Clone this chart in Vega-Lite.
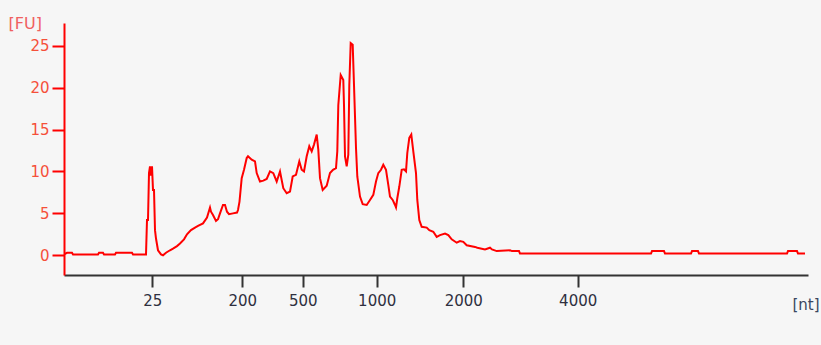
{
  "$schema": "https://vega.github.io/schema/vega-lite/v6.json",
  "width": 744,
  "height": 252,
  "autosize": {"type": "none"},
  "padding": {"left": 64, "top": 23, "right": 13, "bottom": 70},
  "background": "#f6f6f6",
  "config": {"view": {"stroke": null}, "font": "DejaVu Sans"},
  "data": {"values": [
    {"t":0,"fu":0.1},{"t":3,"fu":0.3},{"t":8,"fu":0.3},{"t":9,"fu":0.1},{"t":34,"fu":0.1},{"t":35,"fu":0.3},{"t":39,"fu":0.3},{"t":40,"fu":0.1},{"t":51,"fu":0.1},{"t":52,"fu":0.3},{"t":68,"fu":0.3},{"t":69,"fu":0.1},{"t":82,"fu":0.1},
    {"t":83,"fu":4.2},{"t":84,"fu":4.2},{"t":85,"fu":9.8},{"t":86,"fu":10.6},{"t":87,"fu":9.5},{"t":88,"fu":10.6},{"t":89,"fu":7.8},{"t":90,"fu":7.8},{"t":91,"fu":3.0},{"t":92,"fu":2.0},{"t":94,"fu":0.6},{"t":97,"fu":0.1},{"t":99,"fu":0.0},{"t":102,"fu":0.3},{"t":106,"fu":0.6},{"t":109,"fu":0.8},{"t":113,"fu":1.1},{"t":116,"fu":1.4},{"t":120,"fu":1.9},{"t":123,"fu":2.5},{"t":127,"fu":3.0},{"t":131,"fu":3.3},{"t":134,"fu":3.5},{"t":139,"fu":3.8},{"t":143,"fu":4.5},{"t":146,"fu":5.7},{"t":147,"fu":5.2},{"t":149,"fu":4.8},{"t":152,"fu":4.1},{"t":154,"fu":4.3},{"t":156,"fu":5.0},{"t":159,"fu":6.0},{"t":161,"fu":6.0},{"t":163,"fu":5.2},{"t":165,"fu":4.9},{"t":169,"fu":5.0},{"t":173,"fu":5.1},{"t":174,"fu":5.4},
    {"t":175.5,"fu":6.4},{"t":177.7,"fu":9.2},{"t":180,"fu":10.2},{"t":182.7,"fu":11.6},{"t":184,"fu":11.8},{"t":187.7,"fu":11.4},{"t":191,"fu":11.2},{"t":192.7,"fu":9.8},{"t":196,"fu":8.8},{"t":199.3,"fu":8.9},{"t":202.7,"fu":9.1},{"t":206,"fu":10.0},{"t":209.3,"fu":9.8},{"t":212.7,"fu":8.8},{"t":216,"fu":10.0},{"t":219.3,"fu":8.0},{"t":222.7,"fu":7.4},{"t":226,"fu":7.6},{"t":228.7,"fu":9.4},{"t":232,"fu":9.6},{"t":235.3,"fu":11.2},{"t":237.7,"fu":10.2},{"t":240,"fu":10.0},{"t":242.7,"fu":11.8},{"t":245.3,"fu":13.0},{"t":247.7,"fu":12.4},{"t":250,"fu":13.2},{"t":252.7,"fu":14.4},{"t":254.3,"fu":12.6},{"t":256,"fu":9.2},{"t":258.7,"fu":7.8},{"t":262.7,"fu":8.3},{"t":266,"fu":9.8},{"t":269,"fu":10.2},{"t":272,"fu":10.4},{"t":273.3,"fu":12.4},{"t":274.3,"fu":17.9},{"t":276.7,"fu":21.5},{"t":279.3,"fu":20.9},{"t":280,"fu":17.9},{"t":281,"fu":11.8},{"t":282.7,"fu":10.6},{"t":284.3,"fu":12.0},{"t":285.3,"fu":20.3},{"t":286.7,"fu":25.3},{"t":288.7,"fu":25.1},{"t":290,"fu":20.3},{"t":292,"fu":12.8},{"t":293.3,"fu":9.4},{"t":296,"fu":7.0},{"t":298.7,"fu":6.1},{"t":302.7,"fu":6.0},{"t":306,"fu":6.6},{"t":309.3,"fu":7.2},{"t":312,"fu":8.8},{"t":314.3,"fu":9.8},{"t":317,"fu":10.2},{"t":319.3,"fu":10.8},{"t":322,"fu":10.2},{"t":324.3,"fu":8.4},{"t":326,"fu":7.0},{"t":328.7,"fu":6.6},{"t":331,"fu":6.0},{"t":332,"fu":5.7},{"t":333.3,"fu":6.8},{"t":335.3,"fu":8.2},{"t":337.7,"fu":10.2},{"t":340,"fu":10.25},{"t":342,"fu":10.0},{"t":343.3,"fu":12.2},{"t":345.3,"fu":14.0},{"t":347.3,"fu":14.4},{"t":349.3,"fu":12.4},{"t":352,"fu":9.8},{"t":353.3,"fu":6.6},{"t":355.3,"fu":4.2},{"t":357.7,"fu":3.4},{"t":362.7,"fu":3.3},{"t":365.3,"fu":3.0},{"t":369.3,"fu":2.8},{"t":372.7,"fu":2.2},{"t":376,"fu":2.4},{"t":381,"fu":2.6},{"t":384.3,"fu":2.4},{"t":387.7,"fu":1.9},{"t":392.7,"fu":1.5},{"t":396,"fu":1.7},{"t":399.3,"fu":1.6},{"t":402.7,"fu":1.2},{"t":411,"fu":1.0},{"t":413.3,"fu":0.9},{"t":421,"fu":0.7},{"t":426,"fu":0.9},{"t":428,"fu":0.7},{"t":432.7,"fu":0.5},{"t":446,"fu":0.6},{"t":448,"fu":0.5},{"t":455,"fu":0.5},{"t":456,"fu":0.2},
    {"t":587,"fu":0.2},{"t":588,"fu":0.5},{"t":600,"fu":0.5},{"t":601,"fu":0.2},{"t":627,"fu":0.2},{"t":628,"fu":0.5},{"t":634,"fu":0.5},{"t":635,"fu":0.2},{"t":723,"fu":0.2},{"t":724,"fu":0.5},{"t":733,"fu":0.5},{"t":734,"fu":0.2},{"t":741,"fu":0.2}
  ]},
  "mark": {"type": "line", "color": "#ff0000", "strokeWidth": 2, "clip": true},
  "encoding": {
    "x": {
      "field": "t", "type": "quantitative",
      "scale": {"domain": [0, 744], "nice": false, "zero": false},
      "axis": {
        "values": [88.3, 178.3, 238.7, 312.7, 399.3, 513.7],
        "labelExpr": "datum.value < 100 ? '25' : datum.value < 200 ? '200' : datum.value < 300 ? '500' : datum.value < 350 ? '1000' : datum.value < 450 ? '2000' : '4000'",
        "grid": false,
        "domainColor": "#333333", "domainWidth": 2,
        "tickColor": "#333333", "tickWidth": 2, "tickSize": 12,
        "labelColor": "#2f3040", "labelFontSize": 15, "labelPadding": 6,
        "labelFont": "DejaVu Sans",
        "title": "[nt]", "titleColor": "#3a4660", "titleFontSize": 15, "titleFontWeight": "normal",
        "titleAnchor": null, "titleAlign": "left", "titleBaseline": "alphabetic",
        "titleX": 728, "titleY": 34
      }
    },
    "y": {
      "field": "fu", "type": "quantitative",
      "scale": {"domain": [-2.35, 27.7], "nice": false, "zero": false},
      "axis": {
        "values": [0, 5, 10, 15, 20, 25],
        "grid": false,
        "domainColor": "#ff0000", "domainWidth": 2,
        "tickColor": "#ff0000", "tickWidth": 2, "tickSize": 12,
        "labelColor": "#f5503a", "labelFontSize": 15, "labelPadding": 3,
        "labelFont": "DejaVu Sans",
        "title": "[FU]", "titleColor": "#f06060", "titleFontSize": 16, "titleFontWeight": "normal",
        "titleAngle": 0, "titleAnchor": null, "titleAlign": "left", "titleBaseline": "alphabetic",
        "titleX": -56, "titleY": 5
      }
    }
  }
}
